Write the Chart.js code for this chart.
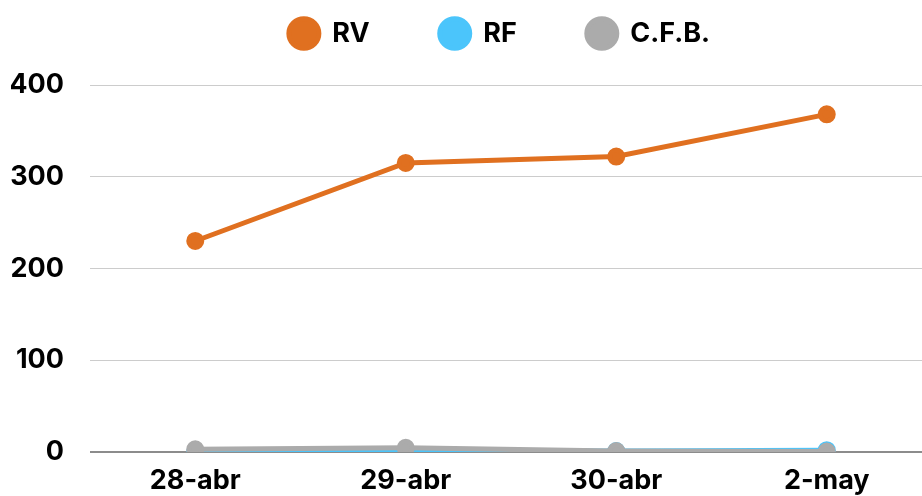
<!DOCTYPE html>
<html>
<head>
<meta charset="utf-8">
<script src="https://cdn.jsdelivr.net/npm/chart.js@4"></script>
<style>
  html, body { margin: 0; padding: 0; background: #fff; overflow: hidden; }
  #wrap { width: 932px; height: 496px; position: relative; }
</style>
</head>
<body>
<div id="wrap"><canvas id="chart" width="932" height="496"></canvas></div>
<script>
// ── Data ─────────────────────────────────────────────
const labels    = ['28-abr', '29-abr', '30-abr', '2-may'];
const rvValues  = [230, 315, 322, 368];
const rfValues  = [0, 1, 1, 2];
const cfbValues = [3, 4.5, 1, 0.5];
const yTicks    = [0, 100, 200, 300, 400];

const FONT = { family: 'Inter, "DejaVu Sans", sans-serif', size: 27, weight: 'bold' };

function series(label, data, color, order) {
  return {
    label,
    data,
    order,
    borderColor: color,
    backgroundColor: color,
    pointBackgroundColor: color,
    pointBorderColor: color,
    borderWidth: 5,
    pointRadius: 6.5,
    tension: 0,
  };
}

// legend sits high with wide gaps between items
const legendPlacement = {
  id: 'legendPlacement',
  afterInit(chart) {
    const legend = chart.legend;
    const fit = legend.fit;
    legend.fit = function () {
      fit.call(this);
      this.height = 85;
    };
  },
  afterLayout(chart) {
    const legend = chart.legend;
    legend.top -= 50;
    legend.left += 28;
    legend.right += 28;
  },
};

new Chart(document.getElementById('chart'), {
  type: 'line',
  data: {
    labels,
    datasets: [
      series('RV', rvValues, '#E07020', 0),
      series('RF', rfValues, '#4BC5FB', 2),
      series('C.F.B.', cfbValues, '#ABABAB', 1),
    ],
  },
  plugins: [legendPlacement],
  options: {
    responsive: false,
    animation: false,
    layout: { autoPadding: false, padding: { left: 11, right: 0, top: 0, bottom: 0 } },
    plugins: {
      legend: {
        position: 'top',
        labels: {
          usePointStyle: true,
          pointStyle: 'circle',
          pointStyleWidth: 30,
          boxHeight: 21,
          padding: 70,
          color: '#000',
          font: FONT,
          sort: (a, b) => a.datasetIndex - b.datasetIndex,
        },
      },
      tooltip: { enabled: false },
    },
    scales: {
      x: {
        offset: true,
        grid: { display: false },
        border: { display: false },
        ticks: { color: '#000', font: FONT, padding: 5, maxRotation: 0 },
        afterFit: axis => {
          axis.height = 44;
          axis.paddingLeft = 0;
          axis.paddingRight = 0;
        },
      },
      y: {
        min: 0,
        max: 400,
        afterBuildTicks: axis => { axis.ticks = yTicks.map(v => ({ value: v })); },
        afterFit: axis => { axis.width = 79; },
        grid: {
          color: ctx => ctx.tick.value === 0 ? '#8c8c8c' : '#cccccc',
          lineWidth: ctx => ctx.tick.value === 0 ? 2 : 1,
          drawTicks: false,
        },
        border: { display: false },
        ticks: { color: '#000', font: FONT, padding: 26 },
      },
    },
  },
});
</script>
</body>
</html>
